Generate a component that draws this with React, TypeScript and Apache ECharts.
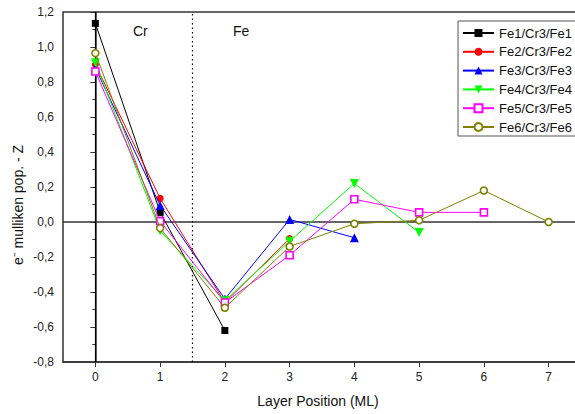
import React, { useEffect, useRef } from "react";
import * as echarts from "echarts";

const layerPositions = [0, 1, 2, 3, 4, 5, 6, 7];
const categoryLabels = ["0", "1", "2", "3", "4", "5", "6", "7"];
const seriesNames = ["Fe1/Cr3/Fe1", "Fe2/Cr3/Fe2", "Fe3/Cr3/Fe3", "Fe4/Cr3/Fe4", "Fe5/Cr3/Fe5", "Fe6/Cr3/Fe6"];
const fe1 = [1.135, 0.055, -0.62];
const fe2 = [0.9, 0.135, -0.46, -0.095];
const fe3 = [0.88, 0.095, -0.44, 0.015, -0.09];
const fe4 = [0.91, -0.05, -0.45, -0.11, 0.22, -0.06];
const fe5 = [0.86, 0.005, -0.46, -0.19, 0.13, 0.055, 0.055];
const fe6 = [0.965, -0.035, -0.49, -0.14, -0.01, 0.01, 0.18, 0.0];
const zeroLine = 0;
const substrateEdge = 0;
const interfaceBoundary = 1.5;

const colors = ["#000000", "#ff0000", "#0000ff", "#00ff00", "#ff00ff", "#808000"];
const symbols = ["rect", "circle", "triangle", "triangle", "rect", "circle"];
const rotations = [0, 0, 0, 180, 0, 0];
const hollow = [false, false, false, false, true, true];

const allValues = [fe1, fe2, fe3, fe4, fe5, fe6];

export default function App() {
  const ref = useRef<HTMLDivElement>(null);
  useEffect(() => {
    if (!ref.current) return;
    const chart = echarts.init(ref.current, undefined, { renderer: "svg" });
    const font = "Arial, 'Liberation Sans', sans-serif";
    const series: any[] = allValues.map((vals, si) => ({
      name: seriesNames[si],
      type: "line",
      xAxisIndex: 0,
      yAxisIndex: 0,
      data: vals.map((v, i) => [layerPositions[i], v]),
      symbol: symbols[si],
      symbolRotate: rotations[si],
      symbolSize: hollow[si] ? 7 : si === 2 || si === 3 ? 9 : 7,
      showSymbol: true,
      lineStyle: { color: colors[si], width: 1 },
      itemStyle: hollow[si]
        ? { color: "#ffffff", borderColor: colors[si], borderWidth: 1.6 }
        : { color: colors[si], borderColor: colors[si], borderWidth: 0 },
      z: 3 + si,
    }));
    series[0].markLine = {
      silent: true,
      symbol: "none",
      label: { show: false },
      animation: false,
      z: 1,
      data: [
        { yAxis: zeroLine, lineStyle: { color: "#333333", width: 1.5, type: "solid" } },
        { xAxis: substrateEdge, lineStyle: { color: "#000000", width: 1.2, type: "solid" } },
        { xAxis: interfaceBoundary, lineStyle: { color: "#000000", width: 1.2, type: [1.5, 3] } },
      ],
    };
    chart.setOption({
      animation: false,
      backgroundColor: "#ffffff",
      textStyle: { fontFamily: font },
      grid: {
        left: 63,
        top: 12,
        right: 9,
        bottom: 52,
        show: true,
        borderColor: "#333333",
        borderWidth: 1.5,
        backgroundColor: "transparent",
      },
      xAxis: [
        {
          type: "value",
          min: -0.5,
          max: 7.5,
          axisLine: { show: false },
          axisTick: { show: false },
          axisLabel: { show: false },
          splitLine: { show: false },
        },
        {
          type: "category",
          position: "bottom",
          data: categoryLabels,
          boundaryGap: true,
          axisLine: { show: true, lineStyle: { color: "#333333", width: 1.5 } },
          axisTick: { show: true, alignWithLabel: true, length: 5, lineStyle: { color: "#333333", width: 1 } },
          axisLabel: { color: "#222222", fontSize: 12, margin: 9, fontFamily: font },
          splitLine: { show: false },
        },
      ],
      yAxis: {
        type: "value",
        min: -0.8,
        max: 1.2,
        interval: 0.2,
        axisLine: { show: true, lineStyle: { color: "#333333", width: 1.5 } },
        axisTick: { show: true, length: 5, lineStyle: { color: "#333333", width: 1 } },
        minorTick: { show: true, splitNumber: 2, length: 3, lineStyle: { color: "#333333", width: 1 } },
        axisLabel: {
          color: "#222222",
          fontSize: 12,
          margin: 9,
          fontFamily: font,
          formatter: (v: number) => v.toFixed(1).replace(".", ","),
        },
        splitLine: { show: false },
      },
      legend: {
        orient: "vertical",
        left: 458,
        top: 21,
        data: seriesNames,
        itemWidth: 31,
        itemHeight: 10,
        itemGap: 4.8,
        padding: [5, 8, 2, 4],
        borderColor: "#555555",
        borderWidth: 1,
        backgroundColor: "#ffffff",
        textStyle: { fontSize: 13, color: "#111111", fontFamily: font, lineHeight: 14 },
      },
      graphic: [
        {
          type: "text",
          left: 133,
          top: 24,
          style: { text: "Cr", font: `14px ${font}`, fill: "#111111" },
        },
        {
          type: "text",
          left: 233,
          top: 24,
          style: { text: "Fe", font: `14px ${font}`, fill: "#111111" },
        },
        {
          type: "text",
          x: 318,
          y: 401,
          style: { text: "Layer Position (ML)", font: `14px ${font}`, fill: "#111111", align: "center", verticalAlign: "middle" },
        },
        {
          type: "text",
          x: 18,
          y: 205,
          rotation: Math.PI / 2,
          style: { text: "e\u207B mulliken pop. - Z", font: `14px ${font}`, fill: "#111111", align: "center", verticalAlign: "middle" },
        },
      ],
      series,
    });
    return () => chart.dispose();
  }, []);
  return (
    <div style={{ width: 575, height: 414, position: "absolute", left: 0, top: 0, overflow: "hidden" }}>
      <div ref={ref} style={{ width: 590, height: 414 }} />
    </div>
  );
}
